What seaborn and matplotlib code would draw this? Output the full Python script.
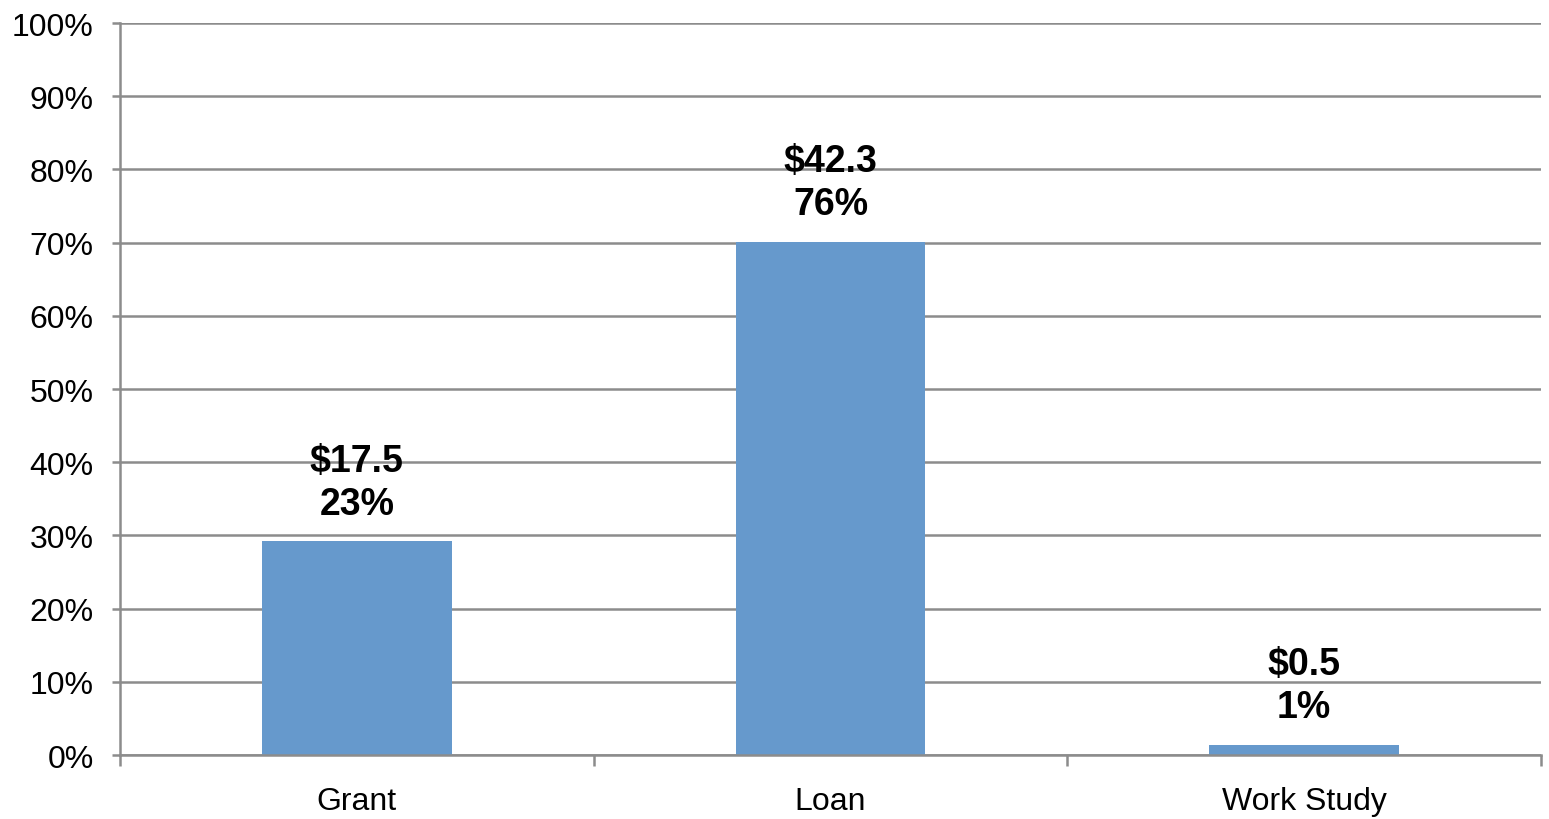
import matplotlib
matplotlib.use("Agg")
import matplotlib.pyplot as plt
import seaborn as sns
import pandas as pd
from matplotlib.ticker import FixedLocator, PercentFormatter

categories = ["Grant", "Loan", "Work Study"]
bar_values = [29.2, 70.1, 1.4]
dollar_labels = ["$17.5", "$42.3", "$0.5"]
pct_labels = ["23%", "76%", "1%"]
y_ticks = [0, 10, 20, 30, 40, 50, 60, 70, 80, 90, 100]

sns.set_style("white")
plt.rcParams["font.family"] = ["Liberation Sans", "DejaVu Sans"]
plt.rcParams["text.color"] = "black"
plt.rcParams["xtick.labelcolor"] = "black"
plt.rcParams["ytick.labelcolor"] = "black"

df = pd.DataFrame({"cat": categories, "val": bar_values})

fig = plt.figure(figsize=(15.49, 8.2), dpi=100)
ax = fig.add_axes([0.0775, 0.078, 0.9173, 0.8927])

sns.barplot(data=df, x="cat", y="val", color="#6699CC", width=0.4,
            saturation=1, ax=ax, zorder=3, edgecolor="none", linewidth=0)

gcol = "#8c8c8c"
ax.set_ylim(0, 100)
ax.set_xlim(-0.5, 2.5)
ax.set_yticks(y_ticks)
ax.yaxis.set_major_formatter(PercentFormatter(decimals=0))
ax.yaxis.grid(True, color=gcol, linewidth=1.8, zorder=0)
ax.set_axisbelow(True)
for s in ["top", "right"]:
    ax.spines[s].set_visible(False)
for s in ["left", "bottom"]:
    ax.spines[s].set_color(gcol)
    ax.spines[s].set_linewidth(1.8)
    ax.spines[s].set_zorder(4)

ax.tick_params(axis="y", which="major", direction="out", length=6, width=1.8,
               color=gcol, labelsize=23, pad=13, left=True, labelcolor="black")
ax.tick_params(axis="x", which="major", length=0, labelsize=23, pad=22,
               labelcolor="black")
ax.xaxis.set_minor_locator(FixedLocator([-0.5, 0.5, 1.5, 2.5]))
ax.tick_params(axis="x", which="minor", direction="out", length=8, width=1.8,
               color=gcol, bottom=True)
ax.set_xlabel("")
ax.set_ylabel("")

for i, (v, d, p) in enumerate(zip(bar_values, dollar_labels, pct_labels)):
    ax.annotate(f"{d}\n{p}", xy=(i, v), xytext=(0, 14), textcoords="offset points",
                ha="center", va="bottom", fontsize=27, fontweight="bold",
                linespacing=1.25, color="black", zorder=5)

fig.savefig("out.png", dpi=100)
